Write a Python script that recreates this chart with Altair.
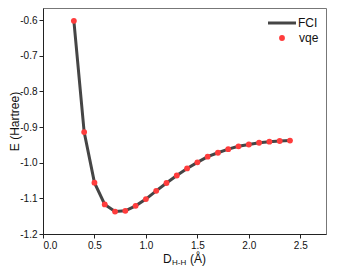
import altair as alt
import pandas as pd

distance = [0.3, 0.4, 0.5, 0.6, 0.7, 0.8, 0.9, 1.0, 1.1, 1.2, 1.3, 1.4,
            1.5, 1.6, 1.7, 1.8, 1.9, 2.0, 2.1, 2.2, 2.3, 2.4]
fci = [-0.602, -0.914, -1.056, -1.117, -1.137, -1.135, -1.121, -1.102,
       -1.079, -1.057, -1.036, -1.016, -0.999, -0.983, -0.972, -0.962,
       -0.954, -0.949, -0.944, -0.941, -0.939, -0.938]
vqe = [-0.602, -0.914, -1.056, -1.117, -1.137, -1.135, -1.121, -1.102,
       -1.079, -1.057, -1.036, -1.016, -0.999, -0.983, -0.972, -0.962,
       -0.954, -0.949, -0.944, -0.941, -0.939, -0.938]
x_ticks = [0.0, 0.5, 1.0, 1.5, 2.0, 2.5]
y_ticks = [-1.2, -1.1, -1.0, -0.9, -0.8, -0.7, -0.6]
legend_labels = ["FCI", "vqe"]

LINE_COLOR = "#454545"
DOT_COLOR = "#ff3c3c"
FONT = "Liberation Sans"
W, H = 283, 226

df = pd.DataFrame({"d": distance, "fci": fci, "vqe": vqe})
one = pd.DataFrame({"k": [0]})

xs = alt.Scale(domain=[0, 2.75], nice=False, zero=False)
ys = alt.Scale(domain=[-1.2, -0.566], nice=False, zero=False)

xaxis = alt.Axis(values=x_ticks, format=".1f", title=None, grid=False,
                 tickSize=4, labelPadding=2, labelFontSize=10, labelOverlap=False,
                 labelFont=FONT, labelColor="#111", domainColor="#222",
                 tickColor="#222")
yaxis = alt.Axis(values=y_ticks, title="E (Hartree)", grid=False,
                 labelExpr="replace(format(datum.value, '.1f'), '\u2212', '-')",
                 tickSize=4, labelPadding=2, labelFontSize=10, labelOverlap=False,
                 labelFont=FONT, labelColor="#111", domainColor="#222",
                 tickColor="#222", titleFontSize=12, titleFont=FONT,
                 titleFontWeight="normal", titleColor="#111",
                 titleAngle=270, titleAlign="center", titleBaseline="bottom",
                 titleX=-22, titleY=H / 2)

line = alt.Chart(df).mark_line(color=LINE_COLOR, strokeWidth=3).encode(
    x=alt.X("d:Q", scale=xs, axis=xaxis),
    y=alt.Y("fci:Q", scale=ys, axis=yaxis),
)
points = alt.Chart(df).mark_point(filled=True, color=DOT_COLOR, size=34, opacity=1).encode(
    x=alt.X("d:Q", scale=xs, axis=xaxis),
    y=alt.Y("vqe:Q", scale=ys, axis=yaxis),
)

# legend
leg_line = alt.Chart(one).mark_rule(color=LINE_COLOR, strokeWidth=3).encode(
    x=alt.value(225), x2=alt.value(253), y=alt.value(15)
)
leg_dot = alt.Chart(one).mark_point(filled=True, color=DOT_COLOR, size=34, opacity=1).encode(
    x=alt.value(239), y=alt.value(30)
)
leg_t1 = alt.Chart(one).mark_text(text=legend_labels[0], align="left", baseline="middle",
                                  fontSize=12, font=FONT, color="#111").encode(
    x=alt.value(255), y=alt.value(15))
leg_t2 = alt.Chart(one).mark_text(text=legend_labels[1], align="left", baseline="middle",
                                  fontSize=12, font=FONT, color="#111").encode(
    x=alt.value(256), y=alt.value(30))

# x-axis title with subscript
t_d = alt.Chart(one).mark_text(text="D", align="left", baseline="alphabetic",
                               fontSize=12, font=FONT, color="#111").encode(
    x=alt.value(120), y=alt.value(255))
t_sub = alt.Chart(one).mark_text(text="H-H", align="left", baseline="alphabetic",
                                 fontSize=8, font=FONT, color="#111").encode(
    x=alt.value(129), y=alt.value(257))
t_a = alt.Chart(one).mark_text(text="(Å)", align="left", baseline="alphabetic",
                               fontSize=12, font=FONT, color="#111").encode(
    x=alt.value(147), y=alt.value(255))

chart = alt.layer(line, points, leg_line, leg_dot, leg_t1, leg_t2, t_d, t_sub, t_a).properties(
    width=W, height=H,
    autosize=alt.AutoSizeParams(type="none"),
    padding={"left": 35, "top": 0, "right": 3, "bottom": 32},
    background="white",
).configure_view(stroke="#777", strokeWidth=1)

chart.save("out.html", embed_options={"renderer": "svg", "actions": False})
